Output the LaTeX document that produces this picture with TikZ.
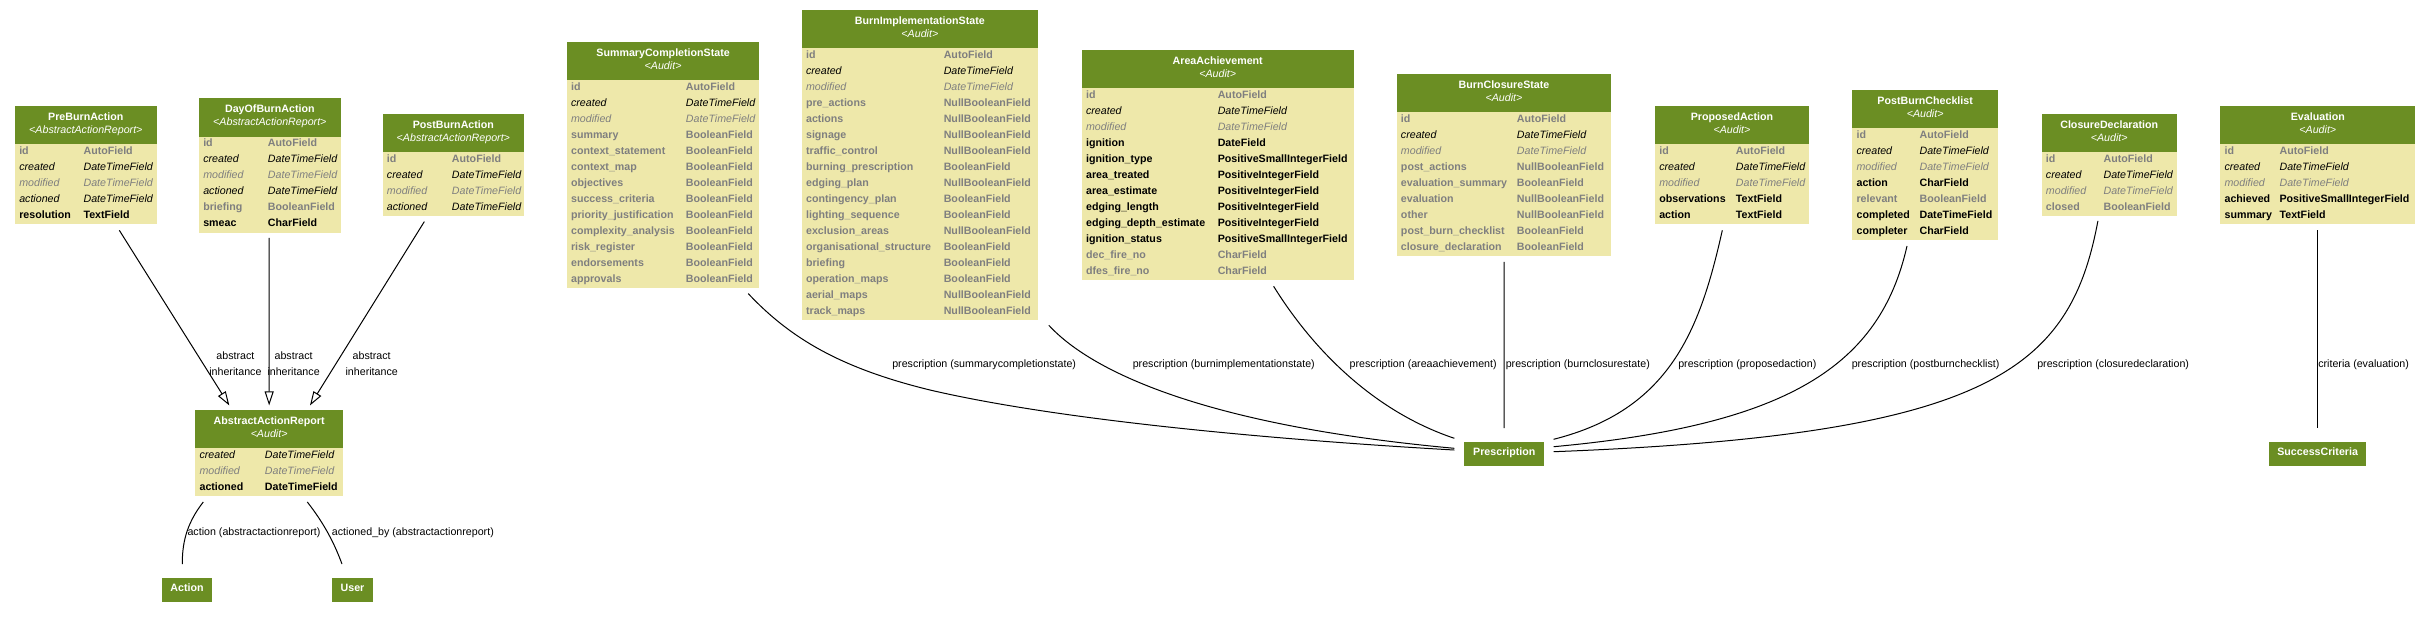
\documentclass[tikz,border=0pt]{standalone}
\usepackage{fontspec}
\setmainfont{Liberation Sans}
\usetikzlibrary{fit,calc,arrows.meta}
\definecolor{hdr}{HTML}{6B8E23}
\definecolor{bdy}{HTML}{EEE8AA}
\definecolor{fgray}{HTML}{7F7F7F}
\newcommand\fs{\fontsize{8}{9.6}\selectfont}
\newcommand\umltable[9]{%
  \pgfmathsetmacro\hb{#4+38.3}%
  \pgfmathsetmacro\tB{#4+38.3+16*#5}%
  \pgfmathsetmacro\cx{(#2+#3)/2}%
  \node[bodybox, fit={(#2,#4) (#3,\tB)}] (#1) {};
  \node[headbox, fit={(#2,#4) (#3,\hb)}] (#1-h) {};
  \node[titletext] (#1-t) at (\cx,#4+14) {#7};
  \node[subtext] (#1-s) at (\cx,#4+27.3) {#8};
  \foreach \rs/\rn/\rt [count=\ri from 0] in {#9} {
    \pgfmathsetmacro\ry{#4+48.3+16*\ri}
    \node[\rs] (#1-a\ri) at (#2+4,\ry) {\rn};
    \node[\rs] (#1-b\ri) at (#6,\ry) {\rt};
  }%
}
\newcommand\smallnode[6]{%
  \node[smallbox, fit={(#2,#4) (#3,#5)}] (#1) {};
  \node[titletext] (#1-t) at ($(#1.center)+(0,2)$) {#6};
}
\begin{document}
\begin{tikzpicture}[x=0.75pt, y=-0.75pt,
  bodybox/.style={fill=bdy, inner sep=0pt, draw=none},
  headbox/.style={fill=hdr, inner sep=0pt, draw=none},
  titletext/.style={anchor=base, inner sep=0pt, text=white, font=\fs\bfseries},
  subtext/.style={anchor=base, inner sep=0pt, text=white, font=\fs\itshape},
  fg/.style={anchor=base west, inner sep=0pt, font=\fs\bfseries, text=fgray},
  fi/.style={anchor=base west, inner sep=0pt, font=\fs\itshape},
  fm/.style={anchor=base west, inner sep=0pt, font=\fs\itshape, text=fgray},
  fb/.style={anchor=base west, inner sep=0pt, font=\fs\bfseries},
  smallbox/.style={fill=hdr, inner sep=0pt, draw=none},
  elabel/.style={anchor=base west, inner sep=0pt, font=\fs},
  ilabel/.style={align=center, inner sep=0pt, font=\fontsize{8}{12}\selectfont},
  inh/.style={draw, line width=0.75pt, -{Triangle[open, length=10.5pt, width=6.75pt]}},
  rel/.style={draw, line width=0.75pt}]
\useasboundingbox (0,0) rectangle (2429,619);
\fill[white] (0,0) rectangle (2429,619);

\umltable{pre}{15}{156.7}{106}{5}{83.3}{PreBurnAction}{<AbstractActionReport>}{fg/id/AutoField, fi/created/DateTimeField, fm/modified/DateTimeField, fi/actioned/DateTimeField, fb/resolution/TextField}
\umltable{day}{199}{340.7}{98.3}{6}{267.7}{DayOfBurnAction}{<AbstractActionReport>}{fg/id/AutoField, fi/created/DateTimeField, fm/modified/DateTimeField, fi/actioned/DateTimeField, fg/briefing/BooleanField, fb/smeac/CharField}
\umltable{post}{382.7}{524}{114}{4}{451.7}{PostBurnAction}{<AbstractActionReport>}{fg/id/AutoField, fi/created/DateTimeField, fm/modified/DateTimeField, fi/actioned/DateTimeField}
\umltable{scs}{566.8}{759.4}{42}{13}{685.7}{SummaryCompletionState}{<Audit>}{fg/id/AutoField, fi/created/DateTimeField, fm/modified/DateTimeField, fg/summary/BooleanField, fg/context\_statement/BooleanField, fg/context\_map/BooleanField, fg/objectives/BooleanField, fg/success\_criteria/BooleanField, fg/priority\_justification/BooleanField, fg/complexity\_analysis/BooleanField, fg/risk\_register/BooleanField, fg/endorsements/BooleanField, fg/approvals/BooleanField}
\umltable{bis}{801.8}{1037.9}{10}{17}{943.5}{BurnImplementationState}{<Audit>}{fg/id/AutoField, fi/created/DateTimeField, fm/modified/DateTimeField, fg/pre\_actions/NullBooleanField, fg/actions/NullBooleanField, fg/signage/NullBooleanField, fg/traffic\_control/NullBooleanField, fg/burning\_prescription/BooleanField, fg/edging\_plan/NullBooleanField, fg/contingency\_plan/BooleanField, fg/lighting\_sequence/BooleanField, fg/exclusion\_areas/NullBooleanField, fg/organisational\_structure/BooleanField, fg/briefing/BooleanField, fg/operation\_maps/BooleanField, fg/aerial\_maps/NullBooleanField, fg/track\_maps/NullBooleanField}
\umltable{aa}{1081.8}{1353.6}{50}{12}{1217.5}{AreaAchievement}{<Audit>}{fg/id/AutoField, fi/created/DateTimeField, fm/modified/DateTimeField, fb/ignition/DateField, fb/ignition\_type/PositiveSmallIntegerField, fb/area\_treated/PositiveIntegerField, fb/area\_estimate/PositiveIntegerField, fb/edging\_length/PositiveIntegerField, fb/edging\_depth\_estimate/PositiveIntegerField, fb/ignition\_status/PositiveSmallIntegerField, fg/dec\_fire\_no/CharField, fg/dfes\_fire\_no/CharField}
\umltable{bcs}{1396.7}{1611.3}{74}{9}{1516.7}{BurnClosureState}{<Audit>}{fg/id/AutoField, fi/created/DateTimeField, fm/modified/DateTimeField, fg/post\_actions/NullBooleanField, fg/evaluation\_summary/BooleanField, fg/evaluation/NullBooleanField, fg/other/NullBooleanField, fg/post\_burn\_checklist/BooleanField, fg/closure\_declaration/BooleanField}
\umltable{pa}{1655}{1809}{106}{5}{1735.7}{ProposedAction}{<Audit>}{fg/id/AutoField, fi/created/DateTimeField, fm/modified/DateTimeField, fb/observations/TextField, fb/action/TextField}
\umltable{pbc}{1852.3}{1998}{90}{7}{1919.3}{PostBurnChecklist}{<Audit>}{fg/id/AutoField, fi/created/DateTimeField, fm/modified/DateTimeField, fb/action/CharField, fg/relevant/BooleanField, fb/completed/DateTimeField, fb/completer/CharField}
\umltable{cd}{2041.7}{2176.7}{114}{4}{2103.3}{ClosureDeclaration}{<Audit>}{fg/id/AutoField, fi/created/DateTimeField, fm/modified/DateTimeField, fg/closed/BooleanField}
\umltable{ev}{2220.3}{2415.3}{106}{5}{2279.3}{Evaluation}{<Audit>}{fg/id/AutoField, fi/created/DateTimeField, fm/modified/DateTimeField, fb/achieved/PositiveSmallIntegerField, fb/summary/TextField}
\umltable{aar}{195.3}{343}{410}{3}{264.7}{AbstractActionReport}{<Audit>}{fi/created/DateTimeField, fm/modified/DateTimeField, fb/actioned/DateTimeField}

\smallnode{act}{161.7}{212.3}{577.7}{601.7}{Action}
\smallnode{user}{332.3}{372.7}{577.7}{601.7}{User}
\smallnode{presc}{1464.3}{1544.3}{441.7}{465.7}{Prescription}
\smallnode{sc}{2269.3}{2366}{441.7}{465.7}{SuccessCriteria}

% inheritance
\draw[inh] ($(pre.south)+(33.45,5.7)$) -- ($(aar.north)+(-39.85,-4.3)$);
\draw[inh] ($(day.south)+(-0.7,5)$) -- ($(aar.north)+(0,-4.3)$);
\draw[inh] ($(post.south)+(-29,5)$) -- ($(aar.north)+(40.85,-4.3)$);
\node[ilabel] (il1) at (235.4,363.4) {abstract\\inheritance};
\node[ilabel] (il2) at (293.6,363.4) {abstract\\inheritance};
\node[ilabel] (il3) at (371.7,363.4) {abstract\\inheritance};

% relations
\draw[rel] ($(aar.south)+(-65.85,5.4)$) .. controls +(-18,23) and +(0,-19) .. ($(act.north)+(-4.7,-13.4)$);
\draw[rel] ($(aar.south)+(38.15,5.4)$) .. controls +(18,23) and +(-7,-19) .. ($(user.north)+(-10.5,-13.4)$);
\node[elabel] (l9) at (187.3,535.7) {action (abstractactionreport)};
\node[elabel] (l10) at (331.7,535.7) {actioned\_by (abstractactionreport)};

\draw[rel] ($(scs.south)+(85.1,5)$) .. controls (790,338) and (840,368) .. (930,390) .. controls (1080,425) and (1330,443) .. ($(presc.west)+(-9.7,-3.7)$);
\draw[rel] ($(bis.south)+(128.95,4.7)$) .. controls (1090,370) and (1200,425) .. ($(presc.west)+(-9.7,-5.4)$);
\draw[rel] ($(aa.south)+(55.9,5.7)$) .. controls (1310,345) and (1370,410) .. ($(presc.west)+(-9.7,-15.4)$);
\draw[rel] ($(bcs.south)+(0,5.4)$) -- ($(presc.north)+(-0.3,-13.4)$);
\draw[rel] ($(pa.south)+(-9.7,5.7)$) .. controls (1700,330) and (1670,410) .. ($(presc.east)+(9,-14.4)$);
\draw[rel] ($(pbc.south)+(-18.15,5.4)$) .. controls (1880,365) and (1790,425) .. ($(presc.east)+(9,-7)$);
\draw[rel] ($(cd.south)+(-11.3,4.3)$) .. controls (2070,370) and (1990,435) .. ($(presc.east)+(9,-2)$);
\draw[rel] ($(ev.south)+(-0.8,5.7)$) -- ($(sc.north)+(-0.65,-13.4)$);

\node[elabel] (l1) at (892,367.7) {prescription (summarycompletionstate)};
\node[elabel] (l2) at (1132.5,367.7) {prescription (burnimplementationstate)};
\node[elabel] (l3) at (1349.4,367.7) {prescription (areaachievement)};
\node[elabel] (l4) at (1505.5,367.7) {prescription (burnclosurestate)};
\node[elabel] (l5) at (1678,367.7) {prescription (proposedaction)};
\node[elabel] (l6) at (1851.5,367.7) {prescription (postburnchecklist)};
\node[elabel] (l7) at (2037,367.7) {prescription (closuredeclaration)};
\node[elabel] (l8) at (2318,367.7) {criteria (evaluation)};
\end{tikzpicture}
\end{document}
